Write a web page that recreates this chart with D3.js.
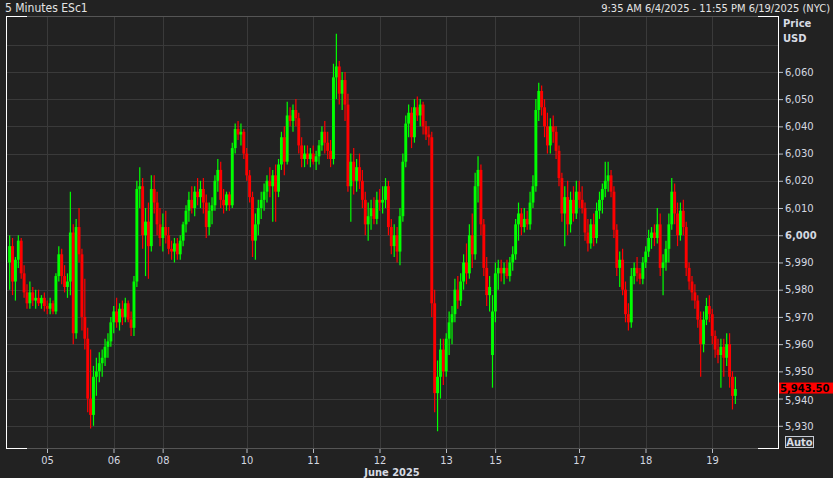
<!DOCTYPE html>
<html><head><meta charset="utf-8">
<script src="https://cdn.jsdelivr.net/npm/d3@7/dist/d3.min.js"></script>
<style>body{margin:0;background:#222222;}svg{display:block;}</style>
</head><body><svg id="c" width="833" height="478"></svg>
<script>
// Hourly OHLC (trading-hour index from 9:35 AM 6/4)
const opens  = [5990,5996,5983,5991,5998,5986,5979,5975,5979,5976,5977,5975,5977,5974,5973,5975,5972,5985,5993,5985,5981,5983,6001,5964,6003,5993,5970,5962,5940,5934,5948,5950,5953,5955,5959,5961,5968,5972,5968,5973,5970,5975,5969,5966,5983,6017,6018,6000,6005,5996,6017,6012,6004,5999,6003,6000,5995,5994,5997,5993,5998,6004,6009,6013,6010,6016,6014,6017,6012,6003,6009,6011,6020,6024,6013,6011,6015,6011,6032,6039,6037,6038,6030,6022,6014,5998,6004,6010,6013,6016,6020,6018,6022,6016,6026,6036,6027,6044,6042,6046,6043,6033,6028,6030,6028,6030,6027,6029,6033,6038,6034,6031,6028,6058,6062,6052,6057,6048,6018,6027,6020,6025,6020,6013,6004,6007,6010,6006,6013,6012,6013,6018,6003,5996,6000,5994,6007,6027,6041,6045,6036,6047,6044,6048,6040,6037,6036,5975,5942,5948,5958,5950,5962,5968,5971,5980,5976,5983,5990,5986,6000,5993,6018,6024,6004,5988,5978,5956,5972,5986,5988,5986,5988,5985,5990,5993,6004,6008,6003,6006,6004,6012,6018,6046,6053,6047,6040,6033,6040,6038,6031,6021,6008,6014,6004,6013,6008,6016,6013,6010,6001,5997,6004,5999,6009,6013,6017,6020,6022,6016,6002,5988,5991,5980,5971,5968,5985,5988,5986,5984,5990,5994,5999,6001,5999,6004,5988,5990,5995,6004,6016,6008,6000,6009,6003,5988,5983,5979,5976,5969,5960,5969,5974,5971,5963,5958,5956,5959,5955,5960,5948,5941];
const highs  = [6000,5999,5992,6000,5999,5989,5982,5983,5981,5980,5980,5978,5979,5976,5977,5976,5986,5996,5995,5989,5986,6016,6004,6006,6010,5995,5984,5966,5958,5952,5955,5957,5958,5962,5964,5970,5974,5977,5975,5976,5977,5976,5972,5985,6020,6025,6021,6010,6012,6022,6022,6016,6010,6008,6009,6003,5998,5999,5999,6000,6005,6011,6016,6018,6018,6021,6020,6021,6015,6012,6014,6022,6028,6027,6017,6016,6016,6034,6041,6042,6041,6039,6032,6024,6016,6008,6013,6016,6019,6022,6025,6024,6026,6028,6038,6040,6049,6047,6048,6050,6045,6036,6033,6033,6032,6033,6031,6035,6040,6042,6038,6035,6063,6074,6064,6060,6060,6052,6030,6032,6028,6030,6024,6016,6012,6013,6014,6016,6017,6018,6021,6020,6006,6004,6003,6010,6030,6044,6048,6047,6050,6051,6050,6049,6042,6040,6038,5980,5954,5962,5962,5964,5972,5974,5984,5985,5986,5993,5997,6004,6008,6023,6029,6026,6006,5992,5985,5978,5990,5991,5991,5990,5991,5992,5996,6006,6012,6010,6010,6009,6016,6022,6050,6056,6055,6050,6045,6043,6044,6040,6033,6023,6018,6020,6016,6018,6020,6020,6018,6012,6006,6006,6008,6012,6016,6019,6027,6027,6024,6018,6004,5994,5995,5983,5975,5988,5990,5992,5988,5992,5996,6002,6003,6004,6010,6008,5993,5998,6008,6021,6019,6012,6012,6013,6005,5990,5985,5982,5978,5972,5972,5977,5978,5973,5965,5962,5962,5962,5964,5964,5950,5948];
const lows   = [5980,5978,5976,5988,5984,5977,5973,5973,5974,5973,5974,5973,5972,5971,5971,5971,5971,5983,5982,5979,5977,5978,5960,5962,5990,5965,5958,5935,5929,5930,5941,5946,5948,5952,5955,5959,5964,5966,5965,5967,5968,5968,5963,5963,5981,6010,5995,5985,5984,5994,6008,6000,5996,5994,5997,5993,5991,5990,5991,5991,5996,6001,6005,6008,6007,6011,6010,6008,5999,6000,6004,6009,6016,6010,6008,6009,6009,6010,6030,6035,6033,6028,6020,6012,5992,5991,6000,6006,6009,6012,6014,6005,6005,6014,6024,6022,6026,6040,6038,6040,6030,6025,6025,6026,6025,6026,6024,6026,6031,6030,6028,6025,6026,6050,6048,6046,6042,6016,6005,6015,6016,6017,6010,6000,5998,6002,6004,6004,6009,6008,6010,6000,5993,5992,5990,5989,6005,6025,6036,6032,6034,6042,6040,6037,6035,6033,5970,5935,5928,5940,5945,5948,5956,5960,5968,5973,5974,5980,5982,5984,5988,5991,6012,6000,5985,5974,5972,5944,5968,5980,5983,5982,5984,5983,5987,5991,5998,6000,6001,6002,6002,6010,6016,6042,6044,6036,6030,6030,6034,6028,6018,6005,5996,6000,6001,6005,6006,6010,6008,5998,5994,5995,5996,5997,6006,6008,6014,6016,6014,5999,5985,5981,5978,5968,5965,5966,5982,5983,5982,5982,5988,5992,5995,5996,5997,5985,5978,5987,5990,6002,6004,5996,5998,6000,5985,5980,5976,5973,5966,5948,5957,5967,5968,5960,5955,5953,5944,5948,5952,5944,5936,5938];
const closes = [5996,5983,5991,5998,5986,5979,5975,5979,5976,5977,5975,5977,5974,5973,5975,5972,5985,5993,5985,5981,5983,6001,5964,6003,5993,5970,5962,5940,5934,5948,5950,5953,5955,5959,5961,5968,5972,5968,5973,5970,5975,5969,5966,5983,6017,6018,6000,6005,5996,6017,6012,6004,5999,6003,6000,5995,5994,5997,5993,5998,6004,6009,6013,6010,6016,6014,6017,6012,6003,6009,6011,6020,6024,6013,6011,6015,6011,6032,6039,6037,6038,6030,6022,6014,5998,6004,6010,6013,6016,6020,6018,6022,6016,6026,6036,6027,6044,6042,6046,6043,6033,6028,6030,6028,6030,6027,6029,6033,6038,6034,6031,6028,6058,6062,6052,6057,6048,6018,6027,6020,6025,6020,6013,6004,6007,6010,6006,6013,6012,6013,6018,6003,5996,6000,5994,6007,6027,6041,6045,6036,6047,6044,6048,6040,6037,6036,5975,5942,5948,5958,5950,5962,5968,5971,5980,5976,5983,5990,5986,6000,5993,6018,6024,6004,5988,5978,5981,5972,5986,5988,5986,5988,5985,5990,5993,6004,6008,6003,6006,6004,6012,6018,6046,6053,6047,6040,6033,6040,6038,6031,6021,6008,6014,6004,6013,6008,6016,6013,6010,6001,5997,6004,5999,6009,6013,6017,6020,6022,6016,6002,5988,5991,5980,5971,5968,5985,5988,5986,5984,5990,5994,5999,6001,5999,6004,5988,5990,5995,6004,6016,6008,6000,6009,6003,5988,5983,5979,5976,5969,5960,5969,5974,5971,5963,5958,5956,5959,5955,5960,5948,5941,5943.5];

// Day ticks (trading-hour offsets of each session day boundary)
const tickHours  = [13.42, 36.42, 53.42, 82.42, 105.42, 128.42, 151.42, 168.42, 197.42, 220.42, 243.42];
const tickLabels = ["05","06","08","10","11","12","13","15","17","18","19"];
const priceTicks = [5930,5940,5950,5960,5970,5980,5990,6000,6010,6020,6030,6040,6050,6060];
const gridPrices = [5930,5940,5950,5960,5970,5980,5990,6000,6010,6020,6030,6040,6050,6060,6070];
const lastPrice = 5943.5;
const titleLeft = "5 Minutes ESc1";
const titleRight = "9:35 AM 6/4/2025 - 11:55 PM 6/19/2025 (NYC)";
const monthLabel = "June 2025";

const svg = d3.select("#c");
const L = 6, R = 778, T = 16, B = 448;
const x = d3.scaleLinear().domain([0, 243.42]).range([8.2, 712]);
const y = d3.scaleLinear().domain([5930, 6060]).range([425.8, 71.9]);

svg.append("rect").attr("width",833).attr("height",478).attr("fill","#222222");

// grid
const g = svg.append("g");
g.selectAll("line.h").data(gridPrices).join("line")
  .attr("x1",L).attr("x2",R).attr("y1",d=>Math.round(y(d))+0.5).attr("y2",d=>Math.round(y(d))+0.5)
  .attr("stroke","#3a3a3a").attr("stroke-width",1);
g.selectAll("line.v").data(tickHours).join("line")
  .attr("y1",T).attr("y2",B).attr("x1",d=>Math.round(x(d))+0.5).attr("x2",d=>Math.round(x(d))+0.5)
  .attr("stroke","#3a3a3a").attr("stroke-width",1);

// candles
const data = closes.map((c,i)=>({i, o:opens[i], h:highs[i], l:lows[i], c}));
const cg = svg.append("g");
const col = d => d.c >= d.o ? "#00ff00" : "#ff0000";
cg.selectAll("line").data(data).join("line")
  .attr("x1",d=>x(d.i+0.5)).attr("x2",d=>x(d.i+0.5))
  .attr("y1",d=>y(d.h)).attr("y2",d=>y(d.l))
  .attr("stroke",col).attr("stroke-width",1.2);
const bw = 2.9;
cg.selectAll("rect").data(data).join("rect")
  .attr("x",d=>x(d.i+0.5)-bw/2).attr("width",bw)
  .attr("y",d=>y(Math.max(d.o,d.c)))
  .attr("height",d=>Math.max(1.5, Math.abs(y(d.o)-y(d.c))))
  .attr("fill",col);

// frame
const f = svg.append("g");
f.append("line").attr("x1",L+0.5).attr("x2",L+0.5).attr("y1",T).attr("y2",B+1).attr("stroke","#ffffff");
f.append("line").attr("x1",R+0.5).attr("x2",R+0.5).attr("y1",T).attr("y2",B+1).attr("stroke","#ffffff");
[T+0.5, B+0.5].forEach(yy=>{
  f.append("line").attr("x1",L).attr("x2",R).attr("y1",yy).attr("y2",yy).attr("stroke","#555555");
  f.append("line").attr("x1",L).attr("x2",L+21).attr("y1",yy).attr("y2",yy).attr("stroke","#ffffff");
  f.append("line").attr("x1",R-20).attr("x2",R+1).attr("y1",yy).attr("y2",yy).attr("stroke","#ffffff");
});

// y axis
const yAxis = d3.axisRight(y).tickValues(priceTicks).tickFormat(d3.format(",")).tickSize(4).tickPadding(2);
const ya = svg.append("g").attr("transform",`translate(${R+1},0)`).call(yAxis);
ya.select(".domain").remove();
ya.selectAll("line").attr("stroke","#b8bcc4");
ya.selectAll("text").attr("fill","#d4d8e0").attr("font-family","DejaVu Sans").attr("font-size",10)
  .attr("font-weight",d=>d===6000?"bold":"normal");
ya.selectAll(".tick").filter(d=>d===5940).select("text").attr("dy","0.5em");

svg.append("text").attr("x",783).attr("y",27).text("Price").attr("fill","#d8dce4")
  .attr("font-family","DejaVu Sans").attr("font-size",10).attr("font-weight","bold");
svg.append("text").attr("x",783).attr("y",42).text("USD").attr("fill","#d8dce4")
  .attr("font-family","DejaVu Sans").attr("font-size",10).attr("font-weight","bold");

// last price tag
svg.append("rect").attr("x",779).attr("y",y(lastPrice)-6.5).attr("width",54).attr("height",11).attr("fill","#ff0000");
svg.append("text").attr("x",780).attr("y",y(lastPrice)+3).text(d3.format(",.2f")(lastPrice))
  .attr("fill","#000").attr("font-family","DejaVu Sans").attr("font-size",10).attr("font-weight","bold");

// Auto box
svg.append("rect").attr("x",785.5).attr("y",436.5).attr("width",28).attr("height",11).attr("fill","#2a2a2a").attr("stroke","#c8ccd4");
svg.append("text").attr("x",799.5).attr("y",446).attr("text-anchor","middle").text("Auto").attr("fill","#d8dce4")
  .attr("font-family","DejaVu Sans").attr("font-size",10).attr("font-weight","bold");

// x axis
const xAxis = d3.axisBottom(x).tickValues(tickHours).tickFormat((d,i)=>tickLabels[i]).tickSize(4).tickPadding(3);
const xa = svg.append("g").attr("transform",`translate(0,${B+1})`).call(xAxis);
xa.select(".domain").remove();
xa.selectAll("line").attr("stroke","#b8bcc4");
xa.selectAll("text").attr("fill","#d4d8e0").attr("font-family","DejaVu Sans Condensed").attr("font-size",11);
svg.append("text").attr("x",392).attr("y",476).attr("text-anchor","middle").text(monthLabel)
  .attr("fill","#d8dce4").attr("font-family","DejaVu Sans Condensed").attr("font-size",11).attr("font-weight","bold");

// titles
svg.append("text").attr("x",5).attr("y",12).text(titleLeft).attr("fill","#e4e4e4")
  .attr("font-family","DejaVu Sans Condensed").attr("font-size",12);
svg.append("text").attr("x",830).attr("y",12).attr("text-anchor","end").text(titleRight).attr("fill","#e4e4e4")
  .attr("font-family","DejaVu Sans Condensed").attr("font-size",11);
</script></body></html>
